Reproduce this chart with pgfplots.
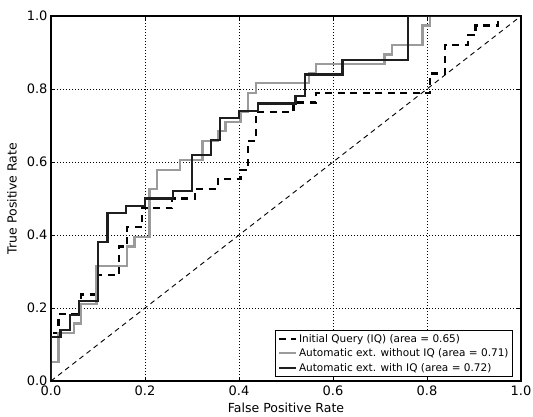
\documentclass[border=0pt]{standalone}
\usepackage{fontspec}
\setmainfont{DejaVu Sans}
\usepackage{pgfplots}
\pgfplotsset{compat=1.18}
\definecolor{rocgray}{RGB}{155,155,155}
\definecolor{rocblack}{RGB}{30,30,30}

\begin{document}
\begin{tikzpicture}
\begin{axis}[scale only axis, width=470pt, height=365pt,
  xmin=0, xmax=1, ymin=0, ymax=1,
  xtick={0,0.2,0.4,0.6,0.8,1}, ytick={0,0.2,0.4,0.6,0.8,1},
  xticklabels={0.0,0.2,0.4,0.6,0.8,1.0}, yticklabels={0.0,0.2,0.4,0.6,0.8,1.0},
  tick align=inside, major tick length=4pt,
  tick style={black, line width=0.7pt},
  grid=major, major grid style={black, line width=0.5pt, dash pattern=on 1pt off 2pt},
  axis line style={line width=1.1pt},
  tick label style={font=\fontsize{13}{15}\selectfont},
  xticklabel style={yshift=-1.5pt},
  label style={font=\fontsize{12.5}{14}\selectfont},
  xlabel={False Positive Rate}, ylabel={True Positive Rate},
  xlabel style={at={(axis description cs:0.5,0)}, anchor=center, yshift=-27pt},
  ylabel style={at={(axis description cs:-0.083,0.5)}, anchor=center},
  legend style={at={(0.983,0.011)}, anchor=south east, font=\fontsize{10.5}{12.5}\selectfont,
    draw=black, line width=0.9pt, inner sep=2pt, row sep=1pt},
  legend cell align=left]

% initial query
\addplot[black, line width=2.3pt, dash pattern=on 7pt off 5.5pt] coordinates {
(0,0)(0,0.1316)(0.0161,0.1316)(0.0161,0.1842)(0.0645,0.1842)(0.0645,0.2368)(0.0968,0.2368)
(0.0968,0.2895)(0.1452,0.2895)(0.1452,0.3684)(0.1613,0.3684)(0.1613,0.4211)(0.1935,0.4211)
(0.1935,0.4737)(0.2581,0.4737)(0.2581,0.5)(0.3065,0.5)(0.3065,0.5263)(0.3548,0.5263)
(0.3548,0.5526)(0.4032,0.5526)(0.4032,0.5789)(0.4194,0.5789)(0.4194,0.6579)(0.4355,0.6579)
(0.4355,0.7368)(0.5161,0.7368)(0.5161,0.7632)(0.5645,0.7632)(0.5645,0.7895)(0.8065,0.7895)
(0.8065,0.8421)(0.8387,0.8421)(0.8387,0.9211)(0.8871,0.9211)(0.8871,0.9474)(0.9032,0.9474)
(0.9032,0.9737)(0.9516,0.9737)(0.9516,1)(1,1)};

% automatic without IQ
\addplot[rocgray, line width=2.3pt] coordinates {
(0,0)(0,0.0526)(0.0161,0.0526)(0.0161,0.1316)(0.0484,0.1316)(0.0484,0.1579)(0.0645,0.1579)
(0.0645,0.2105)(0.0968,0.2105)(0.0968,0.3158)(0.1613,0.3158)(0.1613,0.3684)(0.1774,0.3684)
(0.1774,0.3947)(0.2097,0.3947)(0.2097,0.5263)(0.2258,0.5263)(0.2258,0.5789)(0.2742,0.5789)
(0.2742,0.6053)(0.3226,0.6053)(0.3226,0.6579)(0.3548,0.6579)(0.3548,0.6842)(0.3710,0.6842)
(0.3710,0.7105)(0.4032,0.7105)(0.4032,0.7368)(0.4194,0.7368)(0.4194,0.7895)(0.4355,0.7895)
(0.4355,0.8158)(0.5484,0.8158)(0.5484,0.8421)(0.5645,0.8421)(0.5645,0.8684)(0.7097,0.8684)
(0.7097,0.8947)(0.7258,0.8947)(0.7258,0.9211)(0.7903,0.9211)(0.7903,0.9737)(0.8065,0.9737)
(0.8065,1)(1,1)};

% automatic with IQ
\addplot[rocblack, line width=2.3pt] coordinates {
(0,0)(0,0.12)(0.02,0.12)(0.02,0.14)(0.04,0.14)(0.04,0.18)(0.06,0.18)(0.06,0.22)(0.10,0.22)
(0.10,0.38)(0.12,0.38)(0.12,0.46)(0.16,0.46)(0.16,0.48)(0.20,0.48)(0.20,0.50)(0.26,0.50)
(0.26,0.52)(0.30,0.52)(0.30,0.62)(0.34,0.62)(0.34,0.66)(0.36,0.66)(0.36,0.72)(0.40,0.72)
(0.40,0.74)(0.44,0.74)(0.44,0.76)(0.52,0.76)(0.52,0.78)(0.54,0.78)(0.54,0.84)(0.62,0.84)
(0.62,0.88)(0.76,0.88)(0.76,1.0)(1,1)};

% chance line
\addplot[black, line width=0.9pt, dash pattern=on 5pt off 4pt, forget plot] coordinates {(0,0)(1,1)};

\legend{Initial Query (IQ) (area = 0.65), Automatic ext. without IQ (area = 0.71), Automatic ext. with IQ (area = 0.72)}
\end{axis}
\pgfresetboundingbox
\useasboundingbox (-51pt,-35pt) rectangle (482pt,381pt);
\end{tikzpicture}
\end{document}
